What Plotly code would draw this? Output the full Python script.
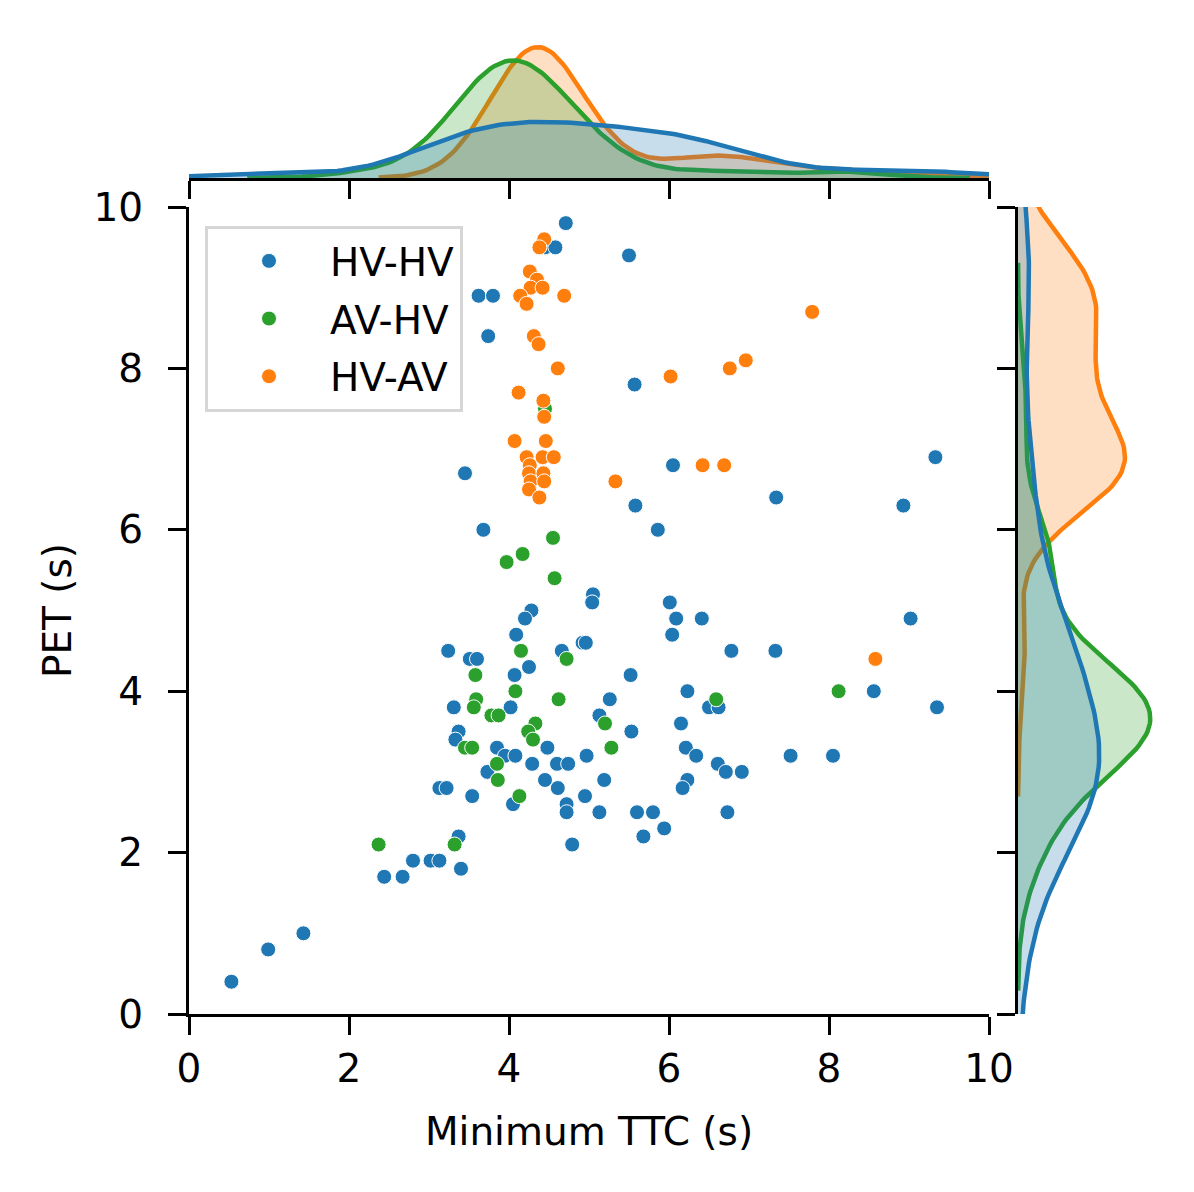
import numpy as np
import plotly.graph_objects as go

# ---------------- data ----------------
hv_hv_ttc = [4.71, 4.45, 4.58, 5.50, 3.62, 3.80, 3.74, 5.57, 3.45, 5.58, 6.05, 9.33, 7.34, 8.93, 5.86, 3.68,
             5.05, 5.04, 6.01, 4.28, 4.20, 6.09, 6.41, 9.02, 4.09, 6.04, 4.92, 4.96, 3.24, 4.66, 6.78, 7.33,
             3.51, 3.60, 4.25, 4.07, 5.52, 6.23, 8.56, 5.26, 3.31, 4.02, 6.50, 6.62, 9.35, 5.13, 6.15, 5.53,
             3.37, 3.33, 3.85, 4.48, 6.21, 3.95, 4.08, 4.97, 6.34, 7.52, 8.05, 4.29, 4.60, 4.74, 6.61, 3.73,
             6.71, 6.91, 4.45, 5.19, 6.23, 3.13, 3.22, 4.61, 6.17, 3.54, 4.95, 4.05, 4.72, 4.72, 5.13, 5.60,
             5.80, 6.73, 5.94, 5.68, 4.79, 3.37, 3.40, 2.80, 3.02, 3.13, 2.44, 2.67, 1.43, 0.99, 0.53]
hv_hv_pet = [9.8, 9.5, 9.5, 9.4, 8.9, 8.9, 8.4, 7.8, 6.7, 6.3, 6.8, 6.9, 6.4, 6.3, 6.0, 6.0,
             5.2, 5.1, 5.1, 5.0, 4.9, 4.9, 4.9, 4.9, 4.7, 4.7, 4.6, 4.6, 4.5, 4.5, 4.5, 4.5,
             4.4, 4.4, 4.3, 4.2, 4.2, 4.0, 4.0, 3.9, 3.8, 3.8, 3.8, 3.8, 3.8, 3.7, 3.6, 3.5,
             3.5, 3.4, 3.3, 3.3, 3.3, 3.2, 3.2, 3.2, 3.2, 3.2, 3.2, 3.1, 3.1, 3.1, 3.1, 3.0,
             3.0, 3.0, 2.9, 2.9, 2.9, 2.8, 2.8, 2.8, 2.8, 2.7, 2.7, 2.6, 2.6, 2.5, 2.5, 2.5,
             2.5, 2.5, 2.3, 2.2, 2.1, 2.2, 1.8, 1.9, 1.9, 1.9, 1.7, 1.7, 1.0, 0.8, 0.4]

av_hv_ttc = [4.45, 4.55, 4.17, 3.97, 4.57, 4.15, 4.72, 3.58, 4.08, 8.12, 3.59, 3.56, 4.62, 6.59,
             3.78, 3.87, 5.20, 4.33, 4.24, 4.30, 3.45, 3.54, 5.28, 3.85, 3.86, 4.13, 2.37, 3.32]
av_hv_pet = [7.5, 5.9, 5.7, 5.6, 5.4, 4.5, 4.4, 4.2, 4.0, 4.0, 3.9, 3.8, 3.9, 3.9,
             3.7, 3.7, 3.6, 3.6, 3.5, 3.4, 3.3, 3.3, 3.3, 3.1, 2.9, 2.7, 2.1, 2.1]

hv_av_ttc = [4.44, 4.38, 4.26, 4.35, 4.27, 4.42, 4.14, 4.22, 4.69, 4.31, 4.37, 4.61, 4.12, 4.43, 4.44,
             4.07, 4.46, 4.22, 4.42, 4.56, 4.26, 4.25, 4.43, 4.27, 4.44, 4.25, 4.38, 5.33, 7.79, 6.02,
             6.76, 6.96, 6.42, 6.69, 8.58]
hv_av_pet = [9.6, 9.5, 9.2, 9.1, 9.0, 9.0, 8.9, 8.8, 8.9, 8.4, 8.3, 8.0, 7.7, 7.6, 7.4,
             7.1, 7.1, 6.9, 6.9, 6.9, 6.8, 6.7, 6.7, 6.6, 6.6, 6.5, 6.4, 6.6, 8.7, 7.9,
             8.0, 8.1, 6.8, 6.8, 4.4]

groups = ["HV-HV", "AV-HV", "HV-AV"]
colors = {"HV-HV": "#1f77b4", "AV-HV": "#2ca02c", "HV-AV": "#ff7f0e"}
fills = {"HV-HV": "rgba(31,119,180,0.25)", "AV-HV": "rgba(44,160,44,0.25)", "HV-AV": "rgba(255,127,14,0.25)"}
data = {"HV-HV": (hv_hv_ttc, hv_hv_pet), "AV-HV": (av_hv_ttc, av_hv_pet), "HV-AV": (hv_av_ttc, hv_av_pet)}

x_ticks = [0, 2, 4, 6, 8, 10]
y_ticks = [0, 2, 4, 6, 8, 10]


def kde(vals, gridsize=200, cut=3):
    v = np.asarray(vals, dtype=float)
    n = len(v)
    bw = n ** (-0.2) * v.std(ddof=1)
    s = np.linspace(v.min() - cut * bw, v.max() + cut * bw, gridsize)
    d = np.exp(-0.5 * ((s[:, None] - v[None, :]) / bw) ** 2).sum(1) / (n * bw * np.sqrt(2 * np.pi))
    return s, d


W, H = 1194, 1192
OFF = 8  # page body margin


def px_x(p):
    return (p - OFF) / W


def px_y(p):
    return 1 - (p - OFF) / H


FONT = "DejaVu Sans"
FS = 39

fig = go.Figure()

# marginal densities (drawn in reverse hue order like seaborn)
top_max = 0
right_max = 0
for g in reversed(groups):
    xs, ys = data[g]
    sx, dx = kde(xs)
    sy, dy = kde(ys)
    top_max = max(top_max, dx.max())
    right_max = max(right_max, dy.max())
    fig.add_trace(go.Scatter(x=sx, y=dx, mode="lines", fill="tozeroy", fillcolor=fills[g],
                             line=dict(color=colors[g], width=4.5), xaxis="x2", yaxis="y2",
                             showlegend=False, hoverinfo="skip"))
    fig.add_trace(go.Scatter(x=dy, y=sy, mode="lines", fill="tozerox", fillcolor=fills[g],
                             line=dict(color=colors[g], width=4.5), xaxis="x3", yaxis="y3",
                             showlegend=False, hoverinfo="skip"))

for i, g in enumerate(groups):
    xs, ys = data[g]
    fig.add_trace(go.Scatter(x=xs, y=ys, mode="markers", name=g,
                             marker=dict(color=colors[g], size=15, line=dict(color="white", width=1)),
                             xaxis="x", yaxis="y", legendgroup=g))

main_x = [px_x(189), px_x(989)]
main_y = [px_y(1014), px_y(207)]

axis_common = dict(showgrid=False, zeroline=False, showline=True, linecolor="black", linewidth=3.3,
                   ticks="outside", ticklen=18, tickwidth=3.3, tickcolor="black", automargin=False,
                   tickfont=dict(family=FONT, size=FS, color="black"))

fig.update_layout(
    width=W, height=H, margin=dict(l=0, r=0, t=0, b=0),
    paper_bgcolor="white", plot_bgcolor="rgba(0,0,0,0)",
    font=dict(family=FONT, size=FS, color="black"),
    xaxis=dict(domain=main_x, range=[0, 10], tickvals=x_ticks, anchor="y", ticklabelstandoff=0,
               title=dict(text="Minimum TTC (s)", font=dict(family=FONT, size=FS), standoff=28),
               **axis_common),
    yaxis=dict(domain=main_y, range=[0, 10], tickvals=y_ticks, anchor="x", ticklabelstandoff=17,
               title=dict(text="PET (s)", font=dict(family=FONT, size=FS), standoff=10),
               **axis_common),
    xaxis2=dict(domain=main_x, matches="x", tickvals=x_ticks, showticklabels=False, anchor="y2",
                **axis_common),
    yaxis2=dict(domain=[px_y(178), px_y(17)], range=[0, top_max * 1.23], visible=False,
                anchor="x2", automargin=False),
    xaxis3=dict(domain=[px_x(1018), px_x(1178)], range=[0, right_max * 1.21], visible=False, anchor="y3",
                automargin=False),
    yaxis3=dict(domain=main_y, matches="y", tickvals=y_ticks, showticklabels=False, anchor="x3",
                **axis_common),
    legend=dict(x=px_x(205), y=px_y(226), xanchor="left", yanchor="top",
                bgcolor="rgba(255,255,255,0.8)", bordercolor="#d6d6d6", borderwidth=3,
                font=dict(family=FONT, size=FS, color="black"), itemwidth=112, tracegroupgap=4,
                entrywidth=133, entrywidthmode="pixels"),
)

fig.write_html("out.html")
